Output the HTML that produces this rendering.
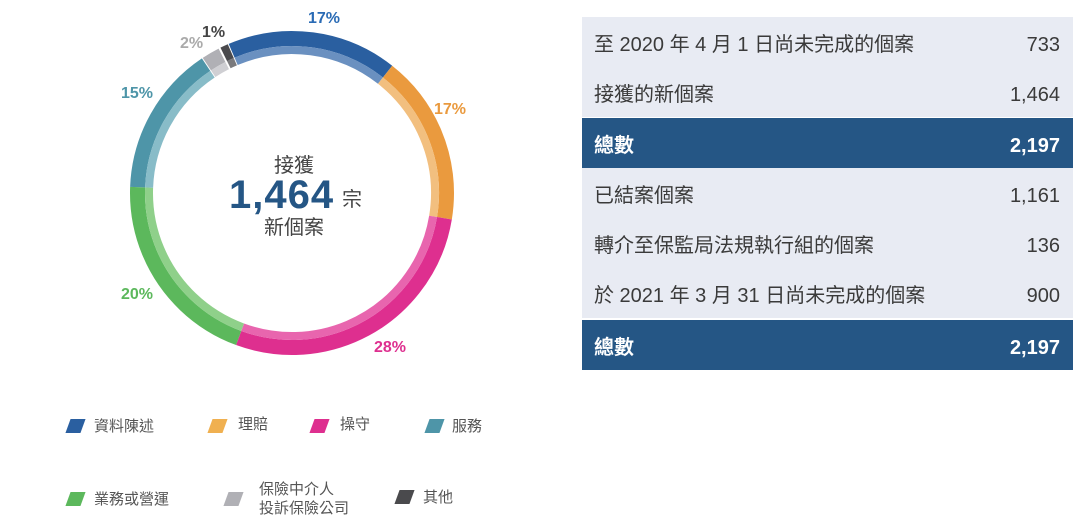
<!DOCTYPE html>
<html><head><meta charset="utf-8"><style>
body{margin:0;width:1080px;height:522px;background:#fff;position:relative;overflow:hidden;font-family:"Liberation Sans","Noto Sans CJK TC",sans-serif;}
.a{position:absolute;white-space:nowrap}
.p{font-weight:bold;font-size:16px;position:absolute;line-height:18px}
.sw{position:absolute;width:15px;height:14px;transform:skewX(-20deg)}
.lt{position:absolute;font-size:15px;color:#555;line-height:19px}
.row{position:absolute;left:582px;width:491px;height:50px;background:#e8ebf3;font-size:20px;color:#3a3a3a}
.row span{position:absolute;top:3px;line-height:50px;height:47px}
.row .l{left:12px}.row .r{right:13px}
.row.d{background:#255685;color:#fff;font-weight:bold}
</style></head><body>
<svg width="1080" height="522" style="position:absolute;left:0;top:0">
<g transform="rotate(-113 292 193)" fill="none">
<circle cx="292" cy="193" r="154.5" stroke-width="15" stroke="#2a5fa0" pathLength="100" stroke-dasharray="17 83" stroke-dashoffset="0"/>
<circle cx="292" cy="193" r="154.5" stroke-width="15" stroke="#ea9a3e" pathLength="100" stroke-dasharray="17 83" stroke-dashoffset="-17"/>
<circle cx="292" cy="193" r="154.5" stroke-width="15" stroke="#de2f8f" pathLength="100" stroke-dasharray="28 72" stroke-dashoffset="-34"/>
<circle cx="292" cy="193" r="154.5" stroke-width="15" stroke="#5cb85c" pathLength="100" stroke-dasharray="20 80" stroke-dashoffset="-62"/>
<circle cx="292" cy="193" r="154.5" stroke-width="15" stroke="#4e95a8" pathLength="100" stroke-dasharray="15 85" stroke-dashoffset="-82"/>
<circle cx="292" cy="193" r="154.5" stroke-width="15" stroke="#b0b0b5" pathLength="100" stroke-dasharray="1.8 98.2" stroke-dashoffset="-97.1"/>
<circle cx="292" cy="193" r="154.5" stroke-width="15" stroke="#4a4a4d" pathLength="100" stroke-dasharray="0.8 99.2" stroke-dashoffset="-99.1"/>
<circle cx="292" cy="193" r="143" stroke-width="8" stroke="#6a90c0" pathLength="100" stroke-dasharray="17 83" stroke-dashoffset="0"/>
<circle cx="292" cy="193" r="143" stroke-width="8" stroke="#f2bf7f" pathLength="100" stroke-dasharray="17 83" stroke-dashoffset="-17"/>
<circle cx="292" cy="193" r="143" stroke-width="8" stroke="#e865ae" pathLength="100" stroke-dasharray="28 72" stroke-dashoffset="-34"/>
<circle cx="292" cy="193" r="143" stroke-width="8" stroke="#8fd08a" pathLength="100" stroke-dasharray="20 80" stroke-dashoffset="-62"/>
<circle cx="292" cy="193" r="143" stroke-width="8" stroke="#88bcc8" pathLength="100" stroke-dasharray="15 85" stroke-dashoffset="-82"/>
<circle cx="292" cy="193" r="143" stroke-width="8" stroke="#cfcfd3" pathLength="100" stroke-dasharray="1.8 98.2" stroke-dashoffset="-97.1"/>
<circle cx="292" cy="193" r="143" stroke-width="8" stroke="#7a7a7d" pathLength="100" stroke-dasharray="0.8 99.2" stroke-dashoffset="-99.1"/>
</g>
</svg>
<div class="p" style="left:308px;top:10px;color:#2a6bb5">17%</div>
<div class="p" style="left:434px;top:101px;color:#ea9a3e">17%</div>
<div class="p" style="left:374px;top:339px;color:#de2f8f">28%</div>
<div class="p" style="left:121px;top:286px;color:#5cb85c">20%</div>
<div class="p" style="left:121px;top:85px;color:#4e95a8">15%</div>
<div class="p" style="left:180px;top:35px;color:#aaa">2%</div>
<div class="p" style="left:202px;top:24px;color:#444">1%</div>
<div class="a" style="left:274px;top:154px;font-size:20px;line-height:24px;color:#444">接獲</div>
<div class="a" style="left:229px;top:173px;font-size:40px;line-height:44px;font-weight:bold;color:#255685;letter-spacing:1px">1,464</div>
<div class="a" style="left:342px;top:188px;font-size:20px;line-height:24px;color:#444">宗</div>
<div class="a" style="left:264px;top:216px;font-size:20px;line-height:24px;color:#444">新個案</div>
<div class="sw" style="left:68px;top:419px;background:#2a5fa0"></div><div class="lt" style="left:94px;top:417px">資料陳述</div>
<div class="sw" style="left:210px;top:419px;background:#f0b050"></div><div class="lt" style="left:238px;top:415px">理賠</div>
<div class="sw" style="left:312px;top:419px;background:#de2f8f"></div><div class="lt" style="left:340px;top:415px">操守</div>
<div class="sw" style="left:427px;top:419px;background:#4e95a8"></div><div class="lt" style="left:452px;top:417px">服務</div>
<div class="sw" style="left:68px;top:492px;background:#5cb85c"></div><div class="lt" style="left:94px;top:490px">業務或營運</div>
<div class="sw" style="left:226px;top:492px;background:#b0b0b5"></div><div class="lt" style="left:259px;top:480px">保險中介人<br>投訴保險公司</div>
<div class="sw" style="left:397px;top:490px;background:#4a4a4d"></div><div class="lt" style="left:423px;top:488px">其他</div>
<div class="row" style="top:17px"><span class="l">至 2020 年 4 月 1 日尚未完成的個案</span><span class="r">733</span></div>
<div class="row" style="top:67px"><span class="l">接獲的新個案</span><span class="r">1,464</span></div>
<div class="row d" style="top:118px"><span class="l">總數</span><span class="r">2,197</span></div>
<div class="row" style="top:168px"><span class="l">已結案個案</span><span class="r">1,161</span></div>
<div class="row" style="top:218px"><span class="l">轉介至保監局法規執行組的個案</span><span class="r">136</span></div>
<div class="row" style="top:268px"><span class="l">於 2021 年 3 月 31 日尚未完成的個案</span><span class="r">900</span></div>
<div class="row d" style="top:320px"><span class="l">總數</span><span class="r">2,197</span></div>
</body></html>
